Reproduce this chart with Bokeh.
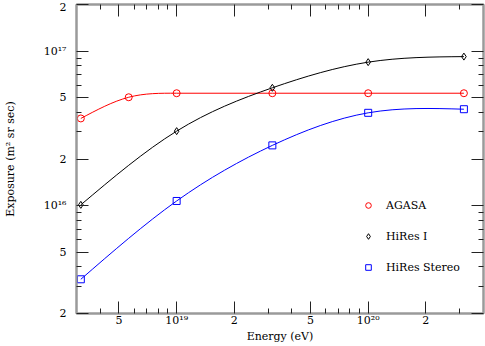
import numpy as np
from bokeh.plotting import figure
from bokeh.models import (FixedTicker, CustomJSTickFormatter, LogAxis, Legend,
                          LegendItem)
from bokeh.embed import file_html
from bokeh.resources import INLINE

# ---- data ----
agasa_energy = [3.16e18, 5.62e18, 1.0e19, 3.16e19, 1.0e20, 3.16e20]
agasa_expo = [3.66e16, 5.02e16, 5.33e16, 5.33e16, 5.33e16, 5.33e16]

hires1_energy = [3.16e18, 1.0e19, 3.16e19, 1.0e20, 3.16e20]
hires1_expo = [1.01e16, 3.03e16, 5.78e16, 8.47e16, 9.2e16]

stereo_energy = [3.16e18, 1.0e19, 3.16e19, 1.0e20, 3.16e20]
stereo_expo = [3.33e15, 1.07e16, 2.45e16, 3.98e16, 4.2e16]

x_major = [5e18, 1e19, 2e19, 5e19, 1e20, 2e20]
x_major_labels = ["5", "10¹⁹", "2", "5", "10²⁰", "2"]
x_minor = [4e18, 6e18, 7e18, 8e18, 9e18, 3e19, 4e19, 6e19, 7e19, 8e19, 9e19, 3e20]

y_major = [2e15, 5e15, 1e16, 2e16, 5e16, 1e17, 2e17]
y_major_labels = ["2", "5", "10¹⁶", "2", "5", "10¹⁷", "2"]
y_minor = [3e15, 4e15, 6e15, 7e15, 8e15, 9e15, 3e16, 4e16, 6e16, 7e16, 8e16, 9e16]

FONT = "DejaVu Serif"
FS = "11px"


def spline_bezier(xs, ys):
    """Natural cubic spline through the points in log-log space,
    returned as cubic Bezier segments (data units)."""
    lx = np.log10(np.asarray(xs, float))
    ly = np.log10(np.asarray(ys, float))
    n = len(lx)
    h = np.diff(lx)
    A = np.zeros((n, n))
    b = np.zeros(n)
    A[0, 0] = 1.0
    A[-1, -1] = 1.0
    for i in range(1, n - 1):
        A[i, i - 1] = h[i - 1]
        A[i, i] = 2 * (h[i - 1] + h[i])
        A[i, i + 1] = h[i]
        b[i] = 6 * ((ly[i + 1] - ly[i]) / h[i] - (ly[i] - ly[i - 1]) / h[i - 1])
    M = np.linalg.solve(A, b)
    m = np.zeros(n)
    for i in range(n - 1):
        m[i] = (ly[i + 1] - ly[i]) / h[i] - h[i] * (2 * M[i] + M[i + 1]) / 6
    m[-1] = (ly[-1] - ly[-2]) / h[-1] + h[-1] * (M[-2] + 2 * M[-1]) / 6
    seg = dict(
        x0=10 ** lx[:-1], y0=10 ** ly[:-1], x1=10 ** lx[1:], y1=10 ** ly[1:],
        cx0=10 ** (lx[:-1] + h / 3), cy0=10 ** (ly[:-1] + m[:-1] * h / 3),
        cx1=10 ** (lx[1:] - h / 3), cy1=10 ** (ly[1:] - m[1:] * h / 3),
    )
    return seg


p = figure(width=485, height=346, x_axis_type="log", y_axis_type="log",
           x_range=(3e18, 4e20), y_range=(2e15, 2e17),
           output_backend="svg", toolbar_location=None,
           min_border_left=76, min_border_right=2, min_border_top=4,
           min_border_bottom=33)
p.background_fill_color = "white"
p.border_fill_color = "white"
p.outline_line_color = "#9a9a9a"
p.outline_line_width = 2
p.xgrid.visible = False
p.ygrid.visible = False

fmt_code = """
for (let i = 0; i < ticks_v.length; i++) {
  if (Math.abs(Math.log10(tick) - Math.log10(ticks_v[i])) < 1e-6) { return labels[i]; }
}
return "";
"""

xt = FixedTicker(ticks=x_major, minor_ticks=x_minor)
yt = FixedTicker(ticks=y_major, minor_ticks=y_minor)


def style_axis(ax, ticker, labels_src=None):
    ax.ticker = ticker
    if labels_src is None:
        ax.formatter = CustomJSTickFormatter(code="return '';")
        ax.major_label_standoff = 0
    else:
        ax.formatter = CustomJSTickFormatter(
            args=dict(ticks_v=labels_src[0], labels=labels_src[1]), code=fmt_code)
    ax.major_tick_in = 12
    ax.major_tick_out = 0
    ax.minor_tick_in = 5
    ax.minor_tick_out = 0
    ax.major_tick_line_color = "#222222"
    ax.minor_tick_line_color = "#222222"
    ax.axis_line_color = "#9a9a9a"
    ax.axis_line_width = 2
    ax.major_label_text_font = FONT
    ax.major_label_text_font_size = FS
    ax.major_label_text_color = "black"
    ax.axis_label_text_font = FONT
    ax.axis_label_text_font_size = FS
    ax.axis_label_text_font_style = "normal"
    ax.axis_label_text_color = "black"


xa = p.xaxis[0]
ya = p.yaxis[0]
style_axis(xa, xt, (x_major, x_major_labels))
style_axis(ya, yt, (y_major, y_major_labels))
xa.axis_label = "Energy (eV)"
ya.axis_label = "Exposure (m² sr sec)"
xa.major_label_standoff = 0
xa.axis_label_standoff = 0
ya.major_label_standoff = 10
ya.axis_label_standoff = 24
ya.major_label_orientation = "horizontal"

top_ax = LogAxis()
style_axis(top_ax, FixedTicker(ticks=x_major, minor_ticks=x_minor))
p.add_layout(top_ax, "above")
right_ax = LogAxis()
style_axis(right_ax, FixedTicker(ticks=y_major, minor_ticks=y_minor))
p.add_layout(right_ax, "right")

series = [
    ("AGASA", agasa_energy, agasa_expo, "#ff0000", "circle", 7),
    ("HiRes I", hires1_energy, hires1_expo, "#000000", "diamond", 7),
    ("HiRes Stereo", stereo_energy, stereo_expo, "#0000ff", "square", 7),
]

items = []
for name, e, x, col, mk, sz in series:
    seg = spline_bezier(e, x)
    p.bezier(line_color=col, line_width=1, **seg)
    r = p.scatter(e, x, marker=mk, size=sz,
                  fill_color=None, line_color=col, line_width=1)
    items.append(LegendItem(label=name, renderers=[r]))

legend = Legend(items=items, location=(285, 39), orientation="vertical",
                glyph_height=14, glyph_width=14, label_height=14,
                spacing=17, label_standoff=11, padding=0, margin=0,
                border_line_color=None, background_fill_alpha=0,
                label_text_font=FONT, label_text_font_size=FS,
                label_text_color="black")
p.add_layout(legend, "center")

open("out.html", "w").write(file_html(p, INLINE))
